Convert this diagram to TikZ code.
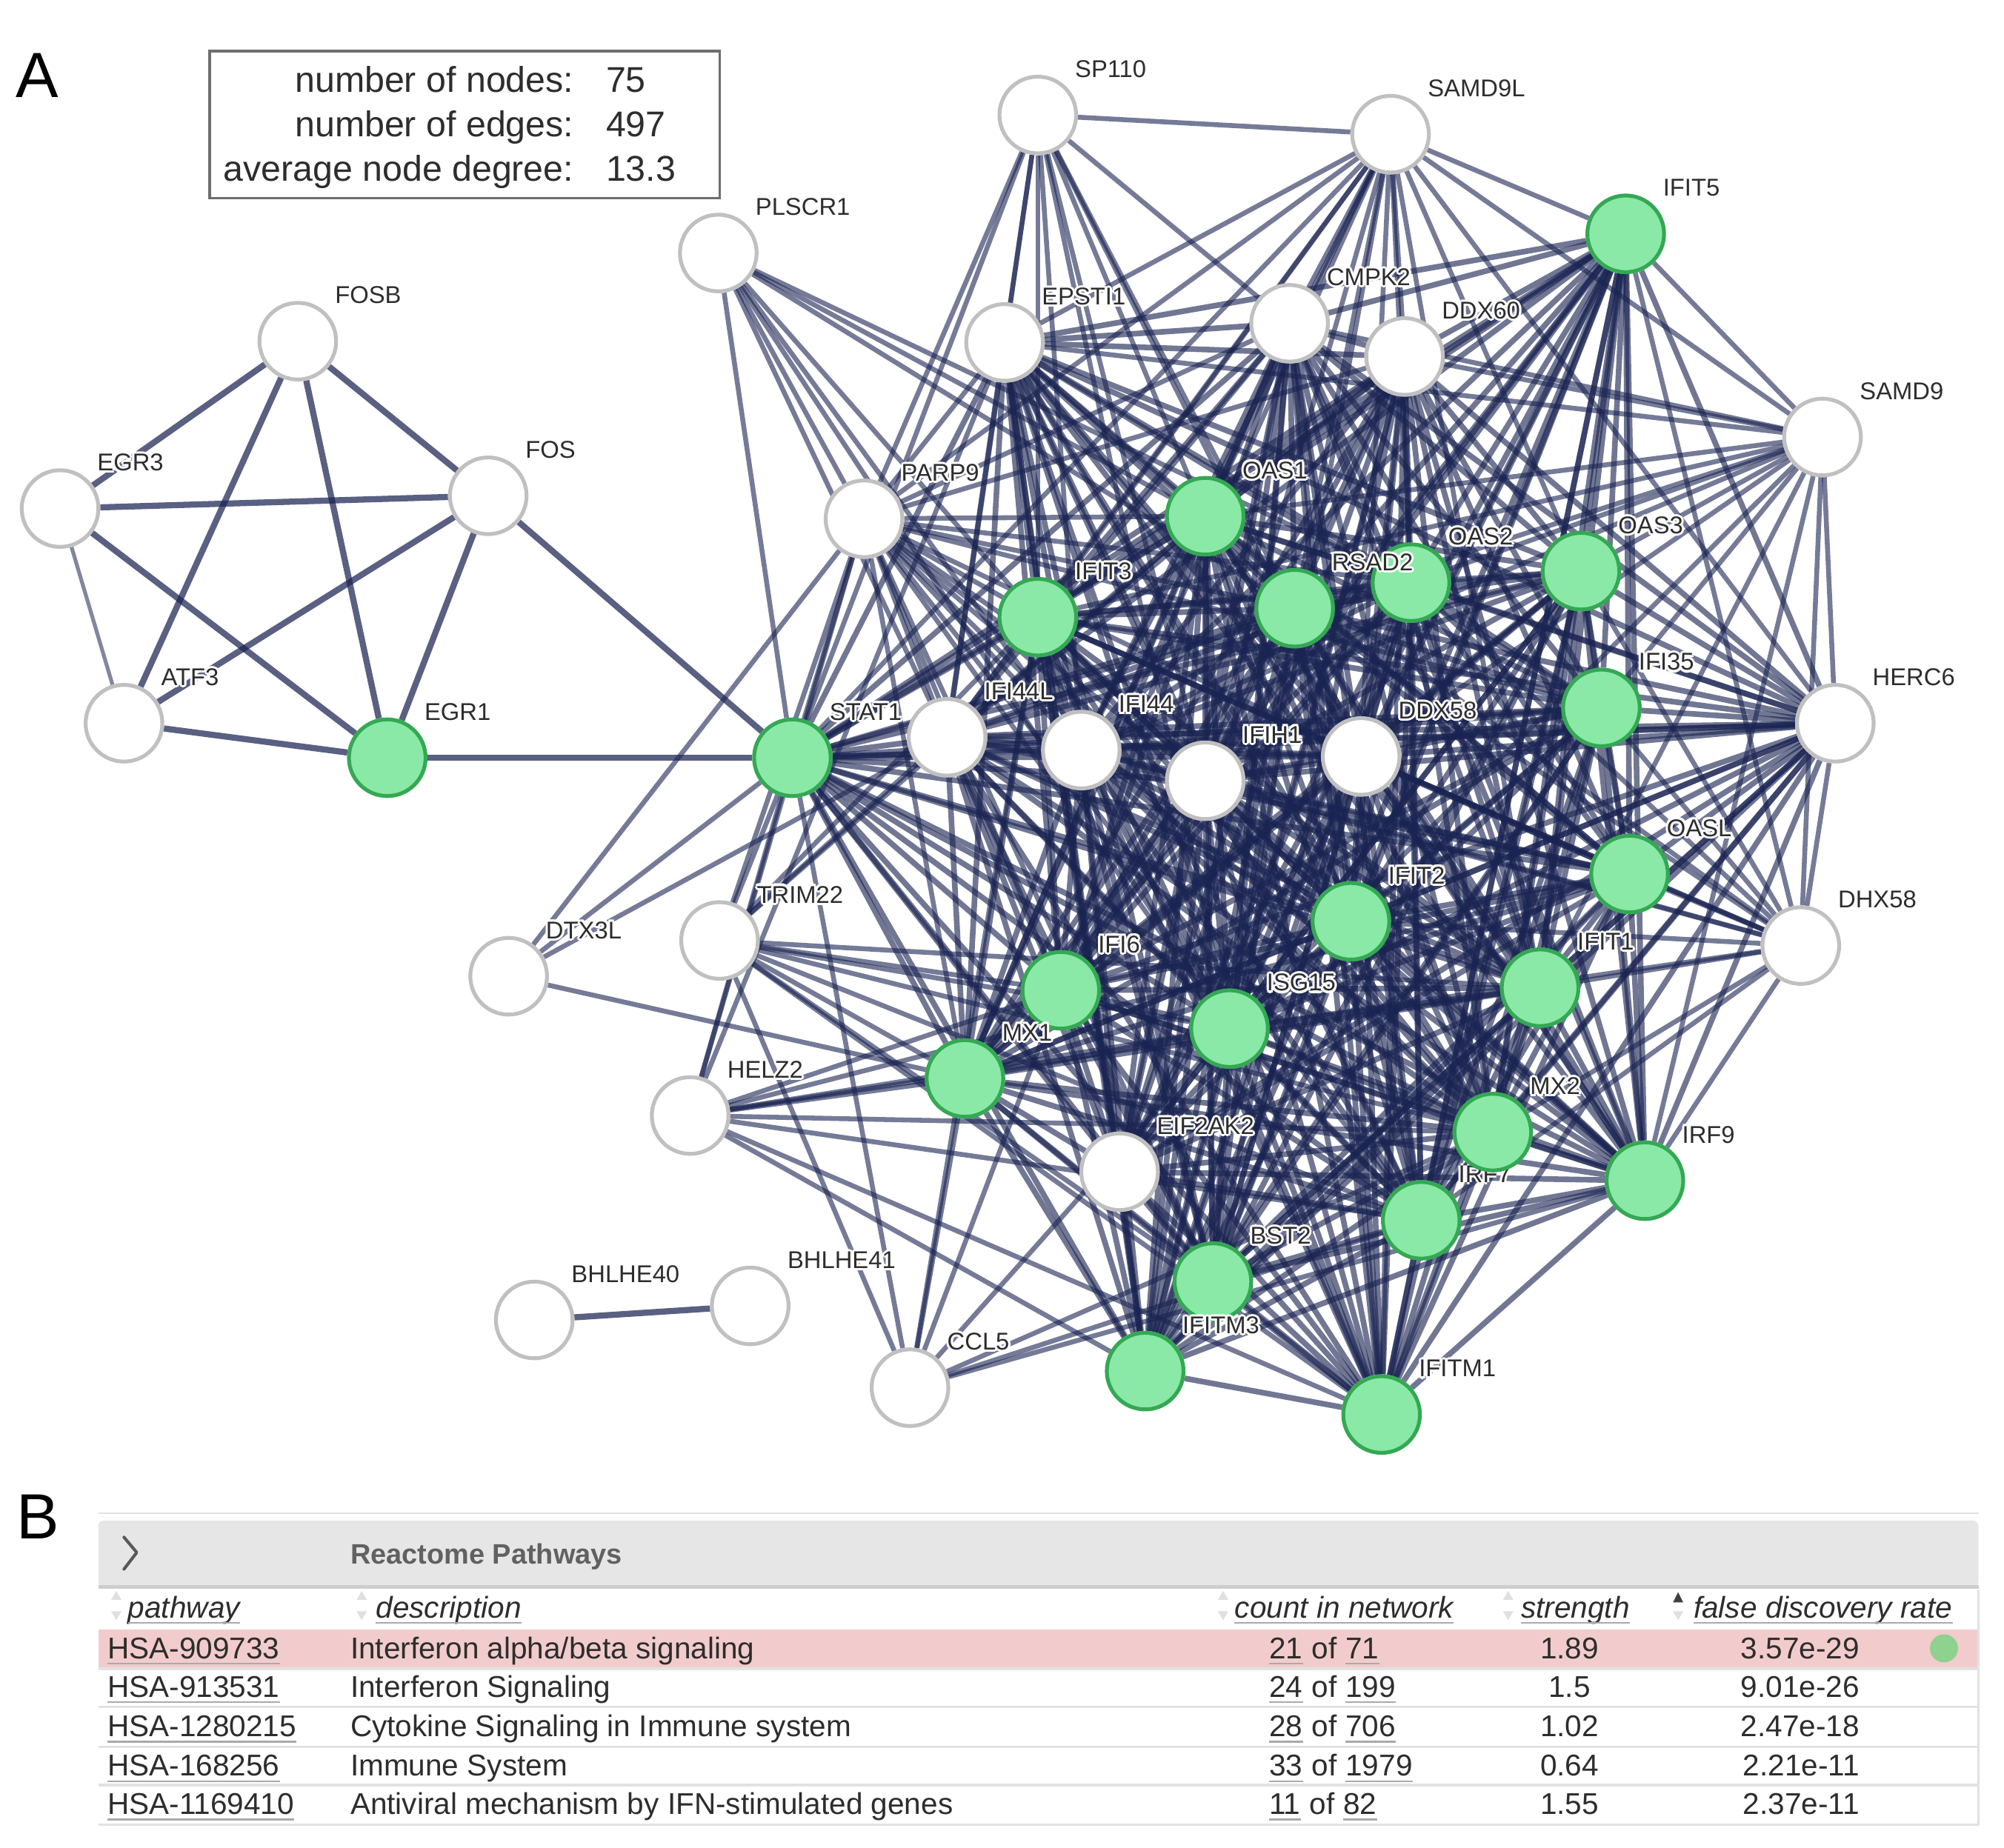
\documentclass[tikz,border=0pt]{standalone}
\usepackage{fontspec}
\setmainfont{Liberation Sans}
\usetikzlibrary{backgrounds}
\pgfdeclarelayer{bottom}
\pgfsetlayers{bottom,background,main}
\definecolor{edgec}{RGB}{26,36,82}
\definecolor{gfill}{RGB}{138,233,166}
\definecolor{gdraw}{RGB}{52,168,83}
\definecolor{wdraw}{RGB}{192,192,192}
\definecolor{txt}{RGB}{45,45,45}
\definecolor{hdrgray}{RGB}{230,230,230}
\definecolor{barline}{RGB}{205,205,205}
\definecolor{rowline}{RGB}{226,226,226}
\definecolor{pinkrow}{RGB}{242,204,204}
\definecolor{dotgreen}{RGB}{143,209,143}
\definecolor{ulgray}{RGB}{170,170,170}
\definecolor{boxc}{RGB}{110,110,110}
\tikzset{
  gn/.style={circle, fill=gfill, draw=gdraw, line width=3, minimum size=60, inner sep=0},
  wn/.style={circle, fill=white, draw=wdraw, line width=3, minimum size=60, inner sep=0},
  ed/.style={draw=edgec, line width=4.4, draw opacity=0.62},
  edl/.style={draw=edgec, line width=3.8, draw opacity=0.6},
  edf/.style={draw=edgec, line width=4.8, draw opacity=0.72},
  lbl/.style={anchor=west, inner sep=0, font=\fontsize{19}{19}\selectfont, text=txt},
  tb/.style={inner sep=0, font=\fontsize{23.5}{23.5}\selectfont, text=txt},
  th/.style={inner sep=0, font=\fontsize{23.5}{23.5}\selectfont\itshape, text=txt},
  ul/.style={draw=ulgray, line width=1.5},
  sorta/.style={fill=black!12},
}
\newcommand{\glab}[2]{%
  \foreach \dx/\dy in {-1.8/0,1.8/0,0/-1.8,0/1.8,-1.3/-1.3,1.3/1.3,-1.3/1.3,1.3/-1.3}
    \node[lbl,text=white] at ([shift={(29+\dx,-36+\dy)}]#1.center) {#2};
  \node[lbl] (L#1) at ([shift={(29,-36)}]#1.center) {#2};
}
\begin{document}
\begin{tikzpicture}[x=1pt,y=-1pt]
\useasboundingbox (0,0) rectangle (1568,1446);
\begin{pgfonlayer}{bottom}
\fill[white] (0,0) rectangle (1568,1446);
\end{pgfonlayer}

% panel letters
\node[anchor=base west, inner sep=0, font=\fontsize{50}{50}\selectfont] (A) at (12,76) {A};
\node[anchor=base west, inner sep=0, font=\fontsize{50}{50}\selectfont] (B) at (13,1204) {B};

% stats box
\draw[boxc, line width=2] (164,40) rectangle (563,155);
\node[tb, anchor=base east, font=\fontsize{28}{28}\selectfont] (s1) at (449,72) {number of nodes:};
\node[tb, anchor=base east, font=\fontsize{28}{28}\selectfont] (s2) at (449,107) {number of edges:};
\node[tb, anchor=base east, font=\fontsize{28}{28}\selectfont] (s3) at (449,142) {average node degree:};
\node[tb, anchor=base west, font=\fontsize{28}{28}\selectfont] (v1) at (474,72) {75};
\node[tb, anchor=base west, font=\fontsize{28}{28}\selectfont] (v2) at (474,107) {497};
\node[tb, anchor=base west, font=\fontsize{28}{28}\selectfont] (v3) at (474,142) {13.3};

% IRF7 label drawn early (partly hidden by nodes)
\coordinate (IRF7c) at (1112,955);
\foreach \dx/\dy in {-1.8/0,1.8/0,0/-1.8,0/1.8}
  \node[lbl,text=white] at ([shift={(29+\dx,-36+\dy)}]IRF7c) {IRF7};
\node[lbl] (LIRF7) at ([shift={(29,-36)}]IRF7c) {IRF7};

% nodes
\foreach \n/\x/\y/\s in {
 SP110/812/90/wn, SAMD9L/1088/105/wn, PLSCR1/562/198/wn, FOSB/233/267/wn,
 EPSTI1/786/268/wn, CMPK2/1009/253/wn, DDX60/1099/279/wn, SAMD9/1426/342/wn,
 EGR3/47/398/wn, FOS/382/388/wn, PARP9/676/406/wn, ATF3/97/566/wn,
 HERC6/1436/566/wn, IFI44L/741/577/wn, IFI44/846/587/wn, IFIH1/943/611/wn,
 DDX58/1065/592/wn, DHX58/1409/740/wn, TRIM22/563/736/wn, DTX3L/398/764/wn,
 HELZ2/540/873/wn, EIF2AK2/876/917/wn, BHLHE40/418/1033/wn, BHLHE41/587/1022/wn,
 CCL5/712/1086/wn,
 IFIT5/1272/183/gn, OAS1/943/404/gn, OAS2/1104/456/gn, OAS3/1237/447/gn,
 IFIT3/812/483/gn, RSAD2/1013/476/gn, IFI35/1253/554/gn, EGR1/303/593/gn,
 STAT1/620/593/gn, OASL/1275/684/gn, IFIT2/1057/721/gn, IFI6/830/775/gn,
 IFIT1/1205/773/gn, ISG15/962/805/gn, MX1/755/844/gn, MX2/1168/886/gn,
 IRF9/1287/924/gn, IRF7/1112/955/gn, BST2/949/1003/gn, IFITM3/896/1073/gn,
 IFITM1/1081/1107/gn}
 \node[\s] (\n) at (\x,\y) {};

% labels
\foreach \n in {SP110,SAMD9L,PLSCR1,FOSB,EPSTI1,CMPK2,DDX60,SAMD9,EGR3,FOS,PARP9,
 ATF3,HERC6,IFI44L,IFI44,IFIH1,DDX58,DHX58,TRIM22,DTX3L,HELZ2,EIF2AK2,BHLHE40,
 BHLHE41,CCL5,IFIT5,OAS1,OAS2,OAS3,IFIT3,RSAD2,IFI35,EGR1,STAT1,OASL,IFIT2,IFI6,
 IFIT1,ISG15,MX1,MX2,IRF9,BST2,IFITM3,IFITM1}
 {\glab{\n}{\n}}

% edges
\begin{pgfonlayer}{background}
\def\corelist{STAT1,IFI44L,IFI44,IFIH1,DDX58,OAS1,OAS2,OAS3,IFIT3,RSAD2,IFI35,OASL,IFIT2,IFI6,IFIT1,ISG15,MX1,MX2,IRF9,IRF7,BST2,IFITM3,IFITM1,IFIT5,EIF2AK2,CMPK2,DDX60,EPSTI1,HERC6}
\foreach \a [count=\i] in \corelist {
  \foreach \b [count=\j] in \corelist {
    \ifnum\j>\i \draw[ed] (\a) -- (\b); \fi
  }
}
\foreach \a/\bl in {
 SP110/{SAMD9L,EPSTI1,PARP9,STAT1,IFI44L,IFIT3,IFI44,OAS1,IFIH1,RSAD2,DDX58,ISG15,CMPK2},
 SAMD9L/{IFIT5,SAMD9,CMPK2,DDX60,EPSTI1,OAS1,OAS2,OAS3,RSAD2,IFIT3,IFI44,IFI44L,DDX58,IFIH1,ISG15,STAT1,HERC6,IFIT1,MX1,PARP9},
 PLSCR1/{STAT1,PARP9,IFIT3,IFI44L,OAS1,IFI44,ISG15,OAS2,RSAD2},
 PARP9/{DTX3L,STAT1,EPSTI1,IFI44L,IFIT3,OAS1,RSAD2,IFI44,IFIH1,DDX58,ISG15,IFI6,MX1,IFIT1,IRF7,OAS2,IFI35,MX2,IRF9,BST2,HELZ2,CMPK2,DDX60,TRIM22},
 DTX3L/{STAT1,MX1,IFI44L},
 TRIM22/{STAT1,MX1,IFI6,ISG15,IFIT3,IRF7,IFITM1,BST2,OAS1,MX2,IFI44L,IFIT1},
 HELZ2/{STAT1,MX1,IFI6,ISG15,IFIT1,OASL,IFITM1,IFITM3,MX2,IRF7,EPSTI1},
 CCL5/{STAT1,IRF7,ISG15,MX1,IFI6,IFIT3,IRF9,MX2,TRIM22},
 SAMD9/{IFIT5,HERC6,OAS1,OAS2,OAS3,IFI35,RSAD2,DDX58,IFIT3,IFIT1,ISG15,EPSTI1,CMPK2,DDX60,IFI44,IRF9,DHX58},
 DHX58/{HERC6,IFIH1,DDX58,OASL,IFIT1,IFI35,OAS3,OAS2,ISG15,IRF7,IFIT3,IFIT2,MX2,IRF9,OAS1,RSAD2,IFI44,IFIT5}}
 { \foreach \b in \bl { \draw[edl] (\a) -- (\b); } }
\foreach \a/\bl in {FOSB/{EGR3,FOS,ATF3,EGR1}, EGR3/{FOS,EGR1}, FOS/{ATF3,EGR1,STAT1}, ATF3/{EGR1}, EGR1/{STAT1}, BHLHE40/{BHLHE41}}
 { \foreach \b in \bl { \draw[edf] (\a) -- (\b); } }
\draw[edf, line width=3, draw opacity=0.55] (EGR3) -- (ATF3);
\end{pgfonlayer}

% ---------- table ----------
\draw[rowline, line width=1.2] (77,1184) -- (1548,1184);
\fill[hdrgray, rounded corners=4] (77,1190) rectangle (1548,1242);
\draw[barline, line width=2.5] (77,1242) -- (1548,1242);
\draw[black!65, line width=2.4, line cap=round, line join=round] (97,1203) -- (107,1215) -- (97,1228);
\node[anchor=base west, inner sep=0, font=\fontsize{22}{22}\selectfont\bfseries, text=black!62] (rp) at (274,1224) {Reactome Pathways};

% column headers
\foreach \nm/\x/\t in {hp/100/pathway, hd/294/description, hc/966/count in network, hs/1190/strength, hf/1325/false discovery rate}{
  \node[th, anchor=base west] (\nm) at (\x,1266) {\t};
  \draw[ul] ([yshift=-4]\nm.base west) -- ([yshift=-4]\nm.base east);
}
\foreach \x in {91,283,957,1180}{
  \fill[sorta] (\x-4,1252) -- (\x+4,1252) -- (\x,1245) -- cycle;
  \fill[sorta] (\x-4,1261) -- (\x+4,1261) -- (\x,1268) -- cycle;
}
\fill[black!75] (1309,1254) -- (1317,1254) -- (1313,1246) -- cycle;
\fill[sorta] (1309,1261) -- (1317,1261) -- (1313,1268) -- cycle;

% rows
\fill[pinkrow] (77,1275) rectangle (1548,1305);
\foreach \y in {1306,1336,1367,1397,1428}
  \draw[rowline, line width=1.8] (77,\y) -- (1548,\y);
\draw[rowline, line width=1.5] (1548,1244) -- (1548,1428);
\fill[dotgreen] (1521,1290) circle (11);

\foreach \r/\y/\id/\de/\ca/\cb/\st/\fd in {
 1/1298/HSA-909733/Interferon alpha\slash beta signaling/21/71/1.89/3.57e-29,
 2/1328/HSA-913531/Interferon Signaling/24/199/1.5/9.01e-26,
 3/1359/HSA-1280215/Cytokine Signaling in Immune system/28/706/1.02/2.47e-18,
 4/1390/HSA-168256/Immune System/33/1979/0.64/2.21e-11,
 5/1420/HSA-1169410/Antiviral mechanism by IFN-stimulated genes/11/82/1.55/2.37e-11}{
  \node[tb, anchor=base west] (id\r) at (84,\y) {\id};
  \draw[ul] ([yshift=-4]id\r.base west) -- ([yshift=-4]id\r.base east);
  \node[tb, anchor=base west] (de\r) at (274,\y) {\de};
  \node[tb, anchor=base west] (ca\r) at (993,\y) {\ca};
  \node[tb, anchor=base west] (co\r) at (ca\r.base east) {\kern0.28em of\kern0.28em};
  \node[tb, anchor=base west] (cb\r) at (co\r.base east) {\cb};
  \draw[ul] ([yshift=-4]ca\r.base west) -- ([yshift=-4]ca\r.base east);
  \draw[ul] ([yshift=-4]cb\r.base west) -- ([yshift=-4]cb\r.base east);
  \node[tb, anchor=base] (st\r) at (1228,\y) {\st};
  \node[tb, anchor=base east] (fd\r) at (1455,\y) {\fd};
}
\end{tikzpicture}
\end{document}
